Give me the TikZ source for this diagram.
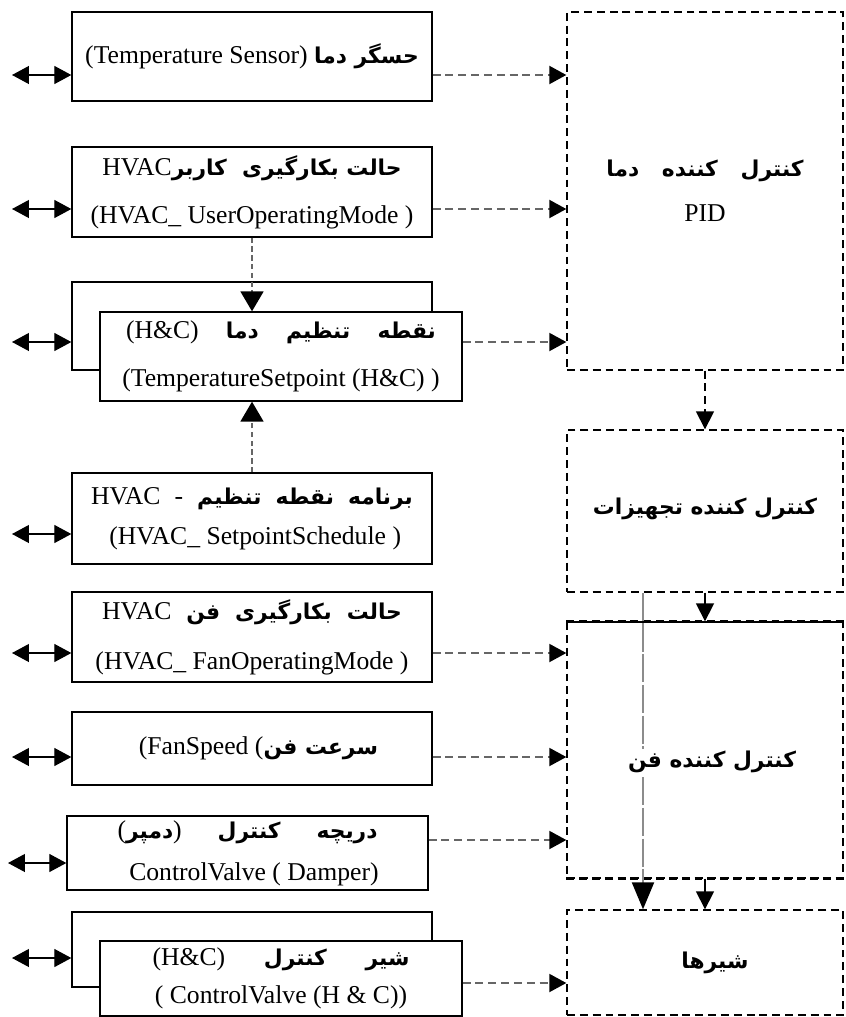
\documentclass[tikz,border=0pt]{standalone}
\usepackage{fontspec}
\setmainfont{Liberation Serif}
\newfontfamily\arabicfont[Script=Arabic,Scale=0.85]{DejaVu Sans}
\TeXXeTstate=1
\usetikzlibrary{arrows.meta}
\newcommand\fa[1]{{\arabicfont\bfseries\beginR #1\endR}}
\begin{document}
\begin{tikzpicture}[x=0.02cm,y=-0.02cm,
  box/.style={draw, line width=0.8pt, fill=white, inner sep=0pt, minimum width=7.2cm, align=center},
  ctrl/.style={draw, dash pattern=on 4.5pt off 2.8pt, line width=0.8pt, minimum width=5.52cm, inner sep=0pt, align=center, font=\fontsize{14.6}{25.5}\selectfont},
  lbl/.style={fill=white, inner sep=1pt, font=\fontsize{14.6}{17}\selectfont},
  dbl/.style={line width=0.7pt, {Triangle[length=0.34cm,width=0.36cm]}-{Triangle[length=0.34cm,width=0.36cm]}},
  darr/.style={draw=black!60, line width=1.1pt, dash pattern=on 4.5pt off 2.8pt, -{Triangle[length=0.34cm,width=0.36cm,color=black]}},
  varr/.style={draw=black!60, line width=1.1pt, dash pattern=on 3pt off 2pt, -{Triangle[length=0.4cm,width=0.46cm,color=black]}},
  rdarr/.style={draw=black, line width=0.9pt, dash pattern=on 4.5pt off 2.8pt, -{Triangle[length=0.36cm,width=0.36cm]}},
  sarr/.style={draw=black, line width=0.9pt, -{Triangle[length=0.36cm,width=0.36cm]}},
  gline/.style={draw=black!45, line width=1.2pt, dash pattern=on 16pt off 1.5pt, -{Triangle[length=0.54cm,width=0.44cm,color=black]}},
  f27/.style={font=\fontsize{14.6}{27.2}\selectfont},
  f23/.style={font=\fontsize{14.6}{22.7}\selectfont},
  f28/.style={font=\fontsize{14.6}{28.3}\selectfont},
  f24/.style={font=\fontsize{14.6}{23.8}\selectfont},
  f21/.style={font=\fontsize{14.6}{21.5}\selectfont},
  f17/.style={font=\fontsize{14.6}{17}\selectfont}
]
\useasboundingbox (0,0) rectangle (845,1017);

% right controller boxes
\node[ctrl, minimum height=7.16cm] (A) at (705,191) {\fa{کنترل \ \ کننده \ \ دما}\\PID};
\node[ctrl, minimum height=3.24cm] (B) at (705,511) {\raisebox{0.2cm}{\fa{کنترل کننده تجهیزات}}};
\node[ctrl, minimum height=5.12cm] (C) at (705,750) {};
\node[ctrl, minimum height=2.1cm] (D) at (705,962.5) {\hspace*{0.4cm}\fa{شیرها}};
\draw[line width=1.6pt, dash pattern=on 4.5pt off 2.8pt] (C.north west) -- (C.north east);
\draw[line width=1.6pt, dash pattern=on 4.5pt off 2.8pt] (C.south west) -- (C.south east);

% left boxes
\node[box, f17, minimum height=1.78cm] (s1) at (252,56.5) {(Temperature Sensor) \fa{حسگر دما}};
\node[box, f27, minimum height=1.8cm] (s2) at (252,192) {HVAC\fa{حالت بکارگیری \ کاربر}\\(HVAC\_ UserOperatingMode )};
\node[box, minimum height=1.76cm] (s3b) at (252,326) {};
\node[box, f27, minimum width=7.24cm, minimum height=1.78cm] (s3) at (281,356.5) {\makebox[6.2cm][s]{(H\&C) \fa{دما} \fa{تنظیم} \fa{نقطه}}\\(TemperatureSetpoint (H\&C) )};
\node[box, f23, minimum height=1.82cm] (s4) at (252,518.5) {\makebox[6.44cm][s]{HVAC - \fa{تنظیم} \fa{نقطه} \fa{برنامه}}\\\ (HVAC\_ SetpointSchedule )};
\node[box, f28, minimum height=1.8cm] (s5) at (252,637) {\makebox[6cm][s]{HVAC \fa{فن} \fa{بکارگیری} \fa{حالت}}\\(HVAC\_ FanOperatingMode )};
\node[box, f17, minimum height=1.46cm] (s6) at (252,748.5) {\ \ (FanSpeed (\fa{سرعت فن}};
\node[box, f24, minimum width=7.22cm, minimum height=1.48cm] (s7) at (247.5,853) {\makebox[5.2cm][s]{(\fa{دمپر}) \fa{کنترل} \fa{دریچه}}\\\ \ ControlValve ( Damper)};
\node[box, minimum height=1.5cm] (s8b) at (252,949.5) {};
\node[box, f21, minimum width=7.24cm, minimum height=1.5cm] (s8) at (281,978.5) {\makebox[5.14cm][s]{(H\&C) \fa{کنترل} \fa{شیر}}\\( ControlValve (H \& C))};

% coordinates for connector heights
\coordinate (l1) at (12,75);
\coordinate (l2) at (12,209);
\coordinate (l3) at (12,342);
\coordinate (l4) at (12,534);
\coordinate (l5) at (12,653);
\coordinate (l6) at (12,757);
\coordinate (l7) at (8,863);
\coordinate (l8) at (12,958);
\coordinate (r7) at (0,840);
\coordinate (r8) at (0,983);
\coordinate (g) at (643,0);

% double arrows
\draw[dbl] (l1) -- (l1 -| s1.west);
\draw[dbl] (l2) -- (l2 -| s2.west);
\draw[dbl] (l3) -- (l3 -| s3b.west);
\draw[dbl] (l4) -- (l4 -| s4.west);
\draw[dbl] (l5) -- (l5 -| s5.west);
\draw[dbl] (l6) -- (l6 -| s6.west);
\draw[dbl] (l7) -- (l7 -| s7.west);
\draw[dbl] (l8) -- (l8 -| s8b.west);

% dashed arrows to controllers
\draw[darr] (l1 -| s1.east) -- (l1 -| A.west);
\draw[darr] (l2 -| s2.east) -- (l2 -| A.west);
\draw[darr] (l3 -| s3.east) -- (l3 -| A.west);
\draw[darr] (l5 -| s5.east) -- (l5 -| C.west);
\draw[darr] (l6 -| s6.east) -- (l6 -| C.west);
\draw[darr] (r7 -| s7.east) -- (r7 -| C.west);
\draw[darr] (r8 -| s8.east) -- (r8 -| D.west);

% vertical arrows on the left
\draw[varr] (s2.south) -- (s2.south |- s3.north);
\draw[varr] (s4.north) -- (s4.north |- s3.south);

% controller chain
\draw[rdarr] (A.south) -- (B.north);
\draw[sarr] (B.south) -- (C.north);
\draw[sarr] (C.south) -- (D.north);
\draw[gline] (B.south -| g) -- (D.north -| g);
\node[lbl] (tC) at (712,762) {\fa{کنترل کننده فن}};
\end{tikzpicture}
\end{document}
